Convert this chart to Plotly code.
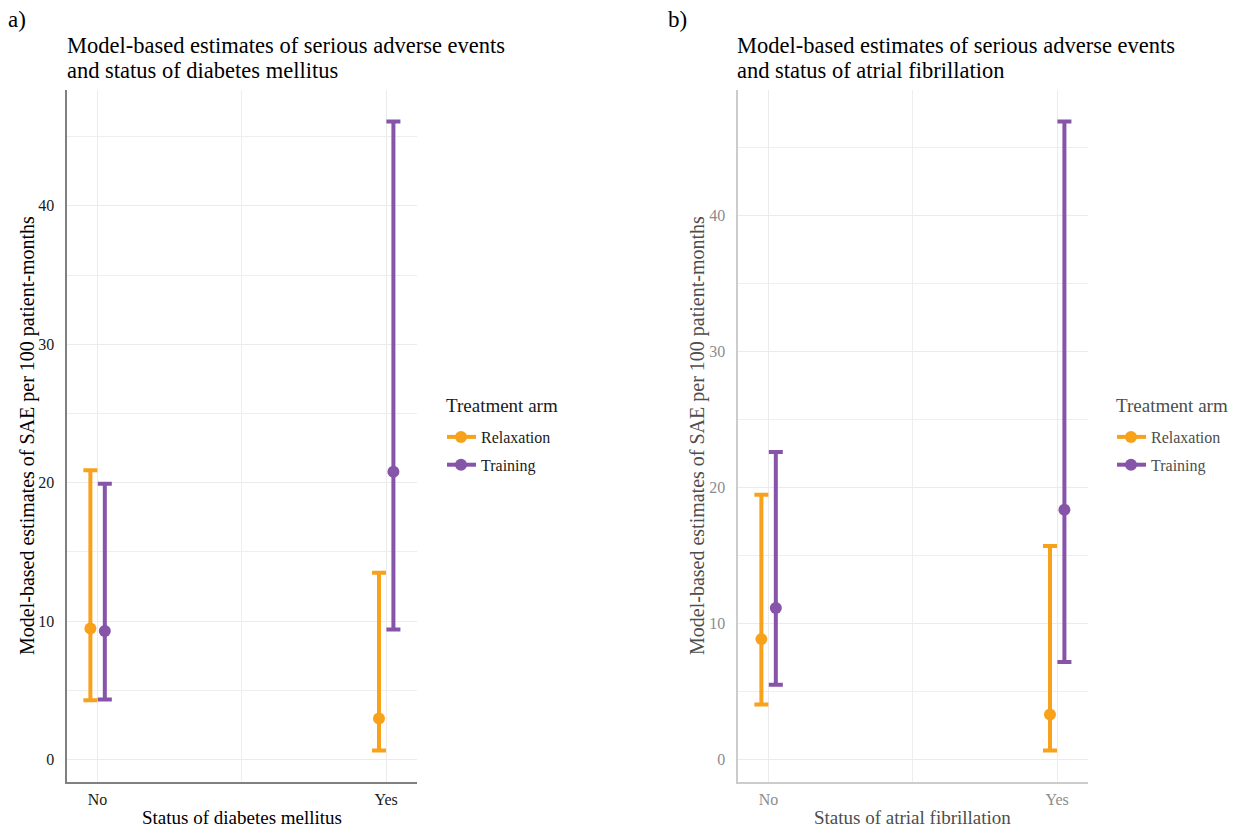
import plotly.graph_objects as go

# ---------------- data ----------------
categories = ["No", "Yes"]
arms = ["Relaxation", "Training"]

# panel a) diabetes mellitus
dm_relax_est = [9.47, 2.96]
dm_relax_lo = [4.29, 0.65]
dm_relax_hi = [20.9, 13.5]
dm_train_est = [9.28, 20.8]
dm_train_lo = [4.34, 9.4]
dm_train_hi = [19.93, 46.1]

# panel b) atrial fibrillation
af_relax_est = [8.85, 3.31]
af_relax_lo = [4.04, 0.66]
af_relax_hi = [19.46, 15.69]
af_train_est = [11.13, 18.36]
af_train_lo = [5.49, 7.16]
af_train_hi = [22.6, 46.9]

y_ticks = [0, 10, 20, 30, 40]
y_minor = [5, 15, 25, 35, 45]

# ---------------- style ----------------
FONT = "Liberation Serif"
COL = {"Relaxation": "#F8A21C", "Training": "#8654A8"}
DODGE = 0.025
W, H = 1241, 830


def px_x(p):
    return p / W


def px_y(p):
    return 1 - p / H


panels = [
    dict(ax="", est=[dm_relax_est, dm_train_est], lo=[dm_relax_lo, dm_train_lo],
         hi=[dm_relax_hi, dm_train_hi], legend="legend",
         xdom=[px_x(67.3), px_x(416.5)]),
    dict(ax="2", est=[af_relax_est, af_train_est], lo=[af_relax_lo, af_train_lo],
         hi=[af_relax_hi, af_train_hi], legend="legend2",
         xdom=[px_x(738.3), px_x(1087.5)]),
]

fig = go.Figure()

for p in panels:
    xref = "x" + p["ax"]
    yref = "y" + p["ax"]
    for k, arm in enumerate(arms):
        off = -DODGE if k == 0 else DODGE
        xs = [i + 1 + off for i in range(len(categories))]
        est, lo, hi = p["est"][k], p["lo"][k], p["hi"][k]
        fig.add_trace(go.Scatter(
            x=xs, y=est, mode="markers", xaxis=xref, yaxis=yref,
            marker=dict(size=12, color=COL[arm]),
            error_y=dict(type="data", symmetric=False,
                         array=[h - e for h, e in zip(hi, est)],
                         arrayminus=[e - l for e, l in zip(est, lo)],
                         color=COL[arm], thickness=4, width=7),
            showlegend=False, hoverinfo="skip"))
    for arm in arms:
        fig.add_trace(go.Scatter(
            x=[None], y=[None], mode="lines+markers", xaxis=xref, yaxis=yref,
            name=arm, legend=p["legend"], legendgroup=arm + p["ax"],
            line=dict(color=COL[arm], width=4),
            marker=dict(size=12, color=COL[arm])))


def yrange(lo_lists, hi_lists):
    mn = min(min(l) for l in lo_lists)
    mx = max(max(h) for h in hi_lists)
    pad = (mx - mn) * 0.05
    return [mn - pad, mx + pad]


ydom = [px_y(782), px_y(90)]
xrange = [1 - DODGE * 2 - 0.055, 2 + DODGE * 2 + 0.055]

styles = [
    dict(line="#808080", tick="#1a1a1a", title="#000000", leg="#1a1a1a"),
    dict(line="#CCCCCC", tick="#8c8c8c", title="#4d4d4d", leg="#4d4d4d"),
]

layout_axes = {}
for p, st in zip(panels, styles):
    n = p["ax"]
    layout_axes["xaxis" + n] = dict(
        domain=p["xdom"], range=xrange, anchor="y" + n,
        tickvals=[1, 2], ticktext=categories,
        showgrid=True, gridcolor="#EBEBEB", gridwidth=1.3,
        minor=dict(tickvals=[1.5], showgrid=True, gridcolor="#EEEEEE", gridwidth=1),
        showline=True, linecolor=st["line"], linewidth=1.6,
        zeroline=False, ticks="", ticklabelstandoff=2,
        tickfont=dict(family=FONT, size=16, color=st["tick"]))
    layout_axes["yaxis" + n] = dict(
        domain=ydom, range=yrange(p["lo"], p["hi"]), anchor="x" + n,
        tickvals=y_ticks,
        showgrid=True, gridcolor="#EBEBEB", gridwidth=1.3,
        minor=dict(tickvals=y_minor, showgrid=True, gridcolor="#EEEEEE", gridwidth=1),
        showline=True, linecolor=st["line"], linewidth=1.6,
        zeroline=False, ticks="", ticklabelstandoff=8,
        tickfont=dict(family=FONT, size=16, color=st["tick"]))

annotations = []
texts = [
    dict(tag="a)", x=8, title=["Model-based estimates of serious adverse events",
                               "and status of diabetes mellitus"],
         tx=68, xtitle="Status of diabetes mellitus", xc=(67.3 + 416.5) / 2, yx=27, lx=447),
    dict(tag="b)", x=668, title=["Model-based estimates of serious adverse events",
                                 "and status of atrial fibrillation"],
         tx=738, xtitle="Status of atrial fibrillation", xc=(738.3 + 1087.5) / 2, yx=697, lx=1117),
]
for t, st in zip(texts, styles):
    annotations.append(dict(text=t["tag"], x=px_x(t["x"] - 2), y=px_y(20), xref="paper", yref="paper",
                            xanchor="left", yanchor="middle", showarrow=False,
                            font=dict(family=FONT, size=23, color="#000000")))
    for i, line in enumerate(t["title"]):
        annotations.append(dict(text=line, x=px_x(t["tx"] - 3), y=px_y(45 + 25.5 * i),
                                xref="paper", yref="paper", xanchor="left", yanchor="middle",
                                showarrow=False, font=dict(family=FONT, size=22.5, color="#000000")))
    annotations.append(dict(text=t["xtitle"], x=px_x(t["xc"]), y=px_y(817), xref="paper", yref="paper",
                            xanchor="center", yanchor="middle", showarrow=False,
                            font=dict(family=FONT, size=19, color=st["title"])))
    annotations.append(dict(text="Model-based estimates of SAE per 100 patient-months",
                            x=px_x(t["yx"]), y=px_y(436), xref="paper", yref="paper",
                            xanchor="center", yanchor="middle", textangle=-90, showarrow=False,
                            font=dict(family=FONT, size=20, color=st["title"])))
    annotations.append(dict(text="Treatment arm", x=px_x(t["lx"] - 3), y=px_y(405),
                            xref="paper", yref="paper", xanchor="left", yanchor="middle",
                            showarrow=False, font=dict(family=FONT, size=19, color=st["leg"])))


def legend_cfg(xpx, st):
    return dict(x=px_x(xpx), y=px_y(420), xanchor="left", yanchor="top",
                font=dict(family=FONT, size=16, color=st["leg"]),
                tracegroupgap=4, indentation=-6, bgcolor="rgba(0,0,0,0)")


fig.update_layout(
    width=W, height=H, margin=dict(l=0, r=0, t=0, b=0),
    paper_bgcolor="white", plot_bgcolor="white",
    font=dict(family=FONT),
    legend=legend_cfg(447, styles[0]),
    legend2=legend_cfg(1117, styles[1]),
    annotations=annotations,
    **layout_axes,
)

fig.write_html("out.html")
